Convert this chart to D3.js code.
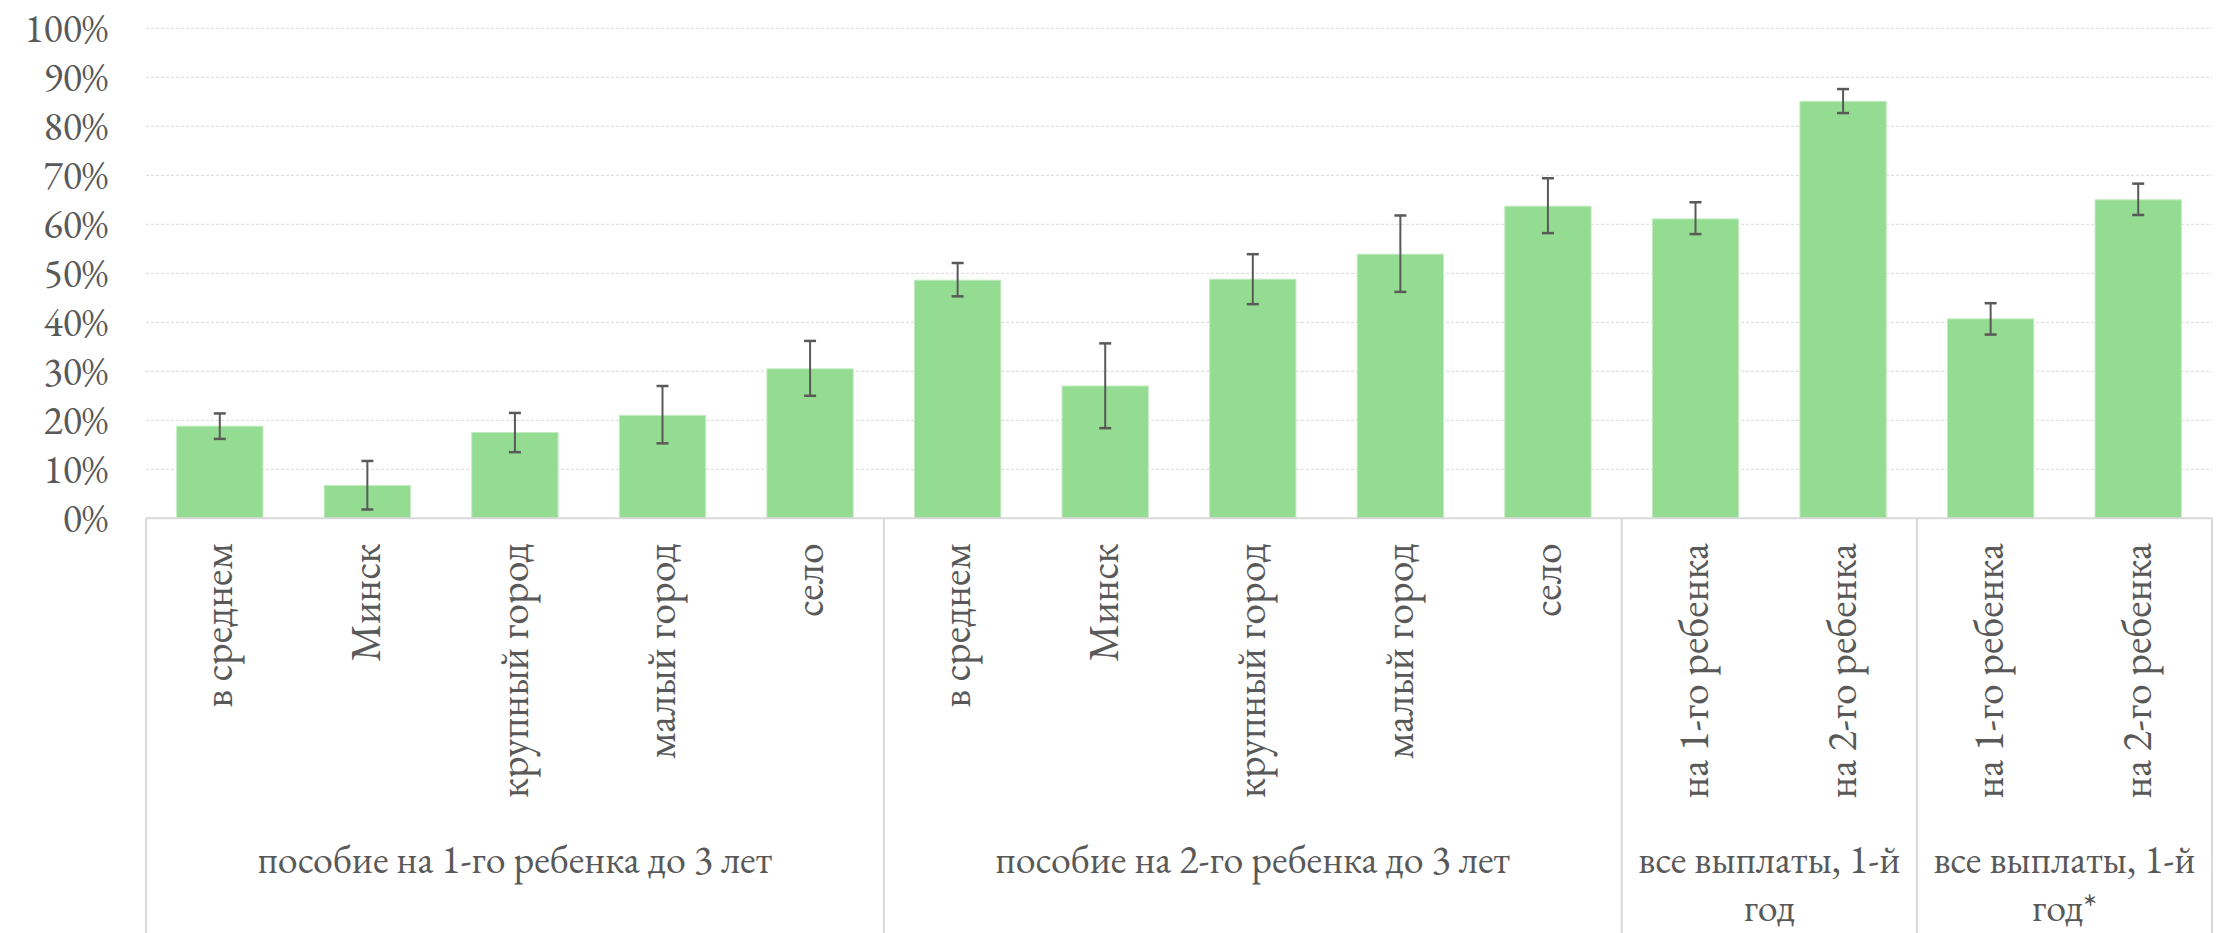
<!DOCTYPE html>
<html>
<head>
<meta charset="utf-8">
<script src="https://cdn.jsdelivr.net/npm/d3@7"></script>
<style>
    body { margin: 0; background: #fff; }
</style>
</head>
<body>
<svg id="chart" width="2216" height="933"></svg>
<script>
// chart data (shares, %)
const groups = [
    ["пособие на 1-го ребенка до 3 лет"],
    ["пособие на 2-го ребенка до 3 лет"],
    ["все выплаты, 1-й", "год"],
    ["все выплаты, 1-й", "год*"]
];
const groupSizes = [5, 5, 2, 2];
const categories = [
    "в среднем", "Минск", "крупный город", "малый город", "село",
    "в среднем", "Минск", "крупный город", "малый город", "село",
    "на 1-го ребенка", "на 2-го ребенка",
    "на 1-го ребенка", "на 2-го ребенка"
];
const values = [18.8, 6.7, 17.5, 21.0, 30.5, 48.6, 27.0, 48.8, 53.9, 63.7, 61.1, 85.1, 40.7, 65.0];
const errHigh = [21.4, 11.7, 21.5, 27.0, 36.2, 52.1, 35.7, 53.9, 61.8, 69.4, 64.5, 87.6, 43.9, 68.3];
const errLow = [16.2, 1.8, 13.5, 15.3, 25.0, 45.3, 18.4, 43.7, 46.2, 58.2, 58.0, 82.7, 37.5, 61.9];
const yTicks = [0, 10, 20, 30, 40, 50, 60, 70, 80, 90, 100];

const FONT = '"EB Garamond", "Liberation Serif", serif';
const TEXT_COLOR = '#595959';

const svg = d3.select('#chart');
const plot = {left: 146, right: 2212, top: 28.3, bottom: 518.3};
const tickFontSize = 40;
const catFontSize = 42;
const groupFontSize = 40;

const keys = categories.map((c, i) => i);

const x = d3.scaleBand()
    .domain(keys)
    .range([plot.left, plot.right])
    .paddingInner(0.415)
    .paddingOuter(0.2075);

const y = d3.scaleLinear()
    .domain([0, 100])
    .range([plot.bottom, plot.top]);

// gridlines
svg.append('g')
    .selectAll('line')
    .data(yTicks.filter(t => t > 0))
    .enter()
    .append('line')
    .attr('x1', plot.left)
    .attr('x2', plot.right)
    .attr('y1', d => y(d))
    .attr('y2', d => y(d))
    .style('stroke', '#d9d9d9')
    .style('stroke-width', 1)
    .style('stroke-dasharray', '3,2');

// y axis labels
const yAxis = svg.append('g')
    .attr('transform', `translate(${plot.left},0)`)
    .call(d3.axisLeft(y).tickValues(yTicks).tickFormat(d => d + '%').tickSize(0).tickPadding(38));
yAxis.select('.domain').remove();
yAxis.selectAll('text')
    .style('font-family', FONT)
    .style('font-size', tickFontSize + 'px')
    .style('fill', TEXT_COLOR);

// bars
svg.append('g')
    .selectAll('rect')
    .data(keys)
    .enter()
    .append('rect')
    .attr('x', i => x(i))
    .attr('width', x.bandwidth())
    .attr('y', i => y(values[i]))
    .attr('height', i => y(0) - y(values[i]))
    .style('fill', '#94dc91')
    .style('stroke', '#c3ecc0')
    .style('stroke-width', 1);

// error bars
const capW = 12;
const err = svg.append('g').style('stroke', '#595959').style('stroke-width', 2);
keys.forEach(i => {
    const cx = x(i) + x.bandwidth() / 2;
    err.append('line')
        .attr('x1', cx).attr('x2', cx)
        .attr('y1', y(errHigh[i])).attr('y2', y(errLow[i]));
    [errHigh[i], errLow[i]].forEach(v => {
        err.append('line')
            .attr('x1', cx - capW / 2).attr('x2', cx + capW / 2)
            .attr('y1', y(v)).attr('y2', y(v))
            .style('stroke-width', 2.5);
    });
});

// category axis box (multi-level, Excel style)
const step = x.step();
const bounds = [0];
groupSizes.forEach(n => bounds.push(bounds[bounds.length - 1] + n));
const boundX = b => plot.left + b * step;

const axisG = svg.append('g').style('stroke', '#d9d9d9').style('stroke-width', 2);
axisG.append('line')
    .attr('x1', plot.left).attr('x2', plot.right)
    .attr('y1', plot.bottom).attr('y2', plot.bottom);
axisG.selectAll('line.sep')
    .data(bounds)
    .enter()
    .append('line')
    .classed('sep', true)
    .attr('x1', b => boundX(b)).attr('x2', b => boundX(b))
    .attr('y1', plot.bottom).attr('y2', 933);

// rotated category labels
svg.append('g')
    .selectAll('text')
    .data(keys)
    .enter()
    .append('text')
    .attr('transform', i => `translate(${x(i) + x.bandwidth() / 2 + catFontSize * 0.3},${plot.bottom + 25}) rotate(-90)`)
    .attr('text-anchor', 'end')
    .style('font-family', FONT)
    .style('font-size', catFontSize + 'px')
    .style('fill', TEXT_COLOR)
    .text(i => categories[i]);

// group labels
groups.forEach((lines, g) => {
    const cx = (boundX(bounds[g]) + boundX(bounds[g + 1])) / 2;
    const t = svg.append('text')
        .attr('text-anchor', 'middle')
        .style('font-family', FONT)
        .style('font-size', groupFontSize + 'px')
        .style('fill', TEXT_COLOR);
    lines.forEach((line, k) => {
        t.append('tspan')
            .attr('x', cx)
            .attr('y', 873 + k * 48)
            .text(line);
    });
});
</script>
</body>
</html>
